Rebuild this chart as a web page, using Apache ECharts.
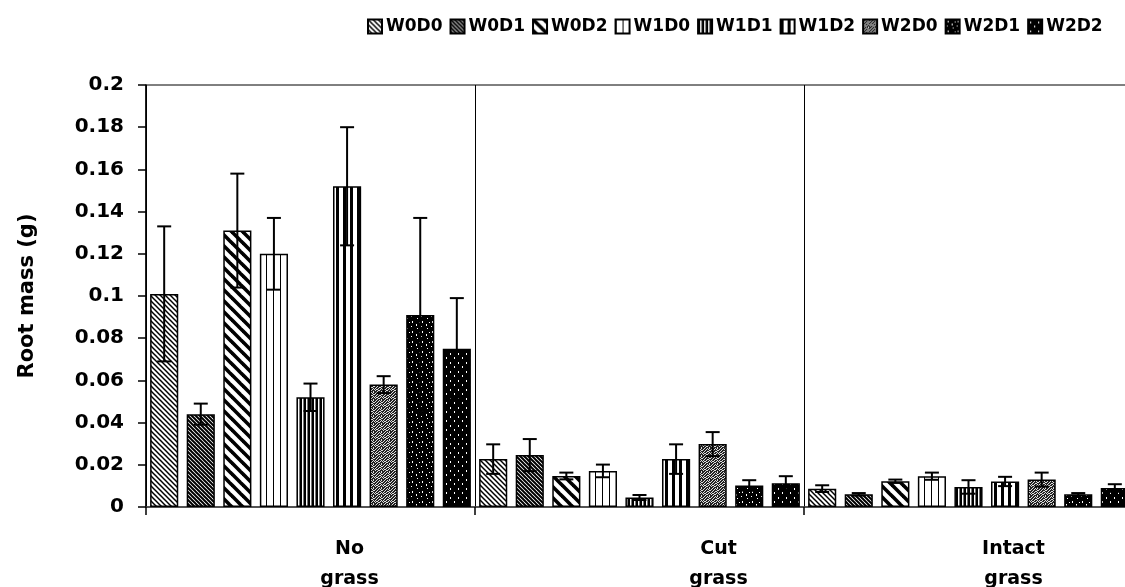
<!DOCTYPE html>
<html>
<head>
<meta charset="utf-8">
<script src="https://cdn.jsdelivr.net/npm/echarts@6/dist/echarts.min.js"></script>
<style>
html,body{margin:0;padding:0;background:#fff;}
#chart{width:1125px;height:587px;}
</style>
</head>
<body>
<div id="chart"></div>
<script>
// ---- data ----
const categories = ['No\ngrass', 'Cut\ngrass', 'Intact\ngrass'];
const seriesNames = ['W0D0', 'W0D1', 'W0D2', 'W1D0', 'W1D1', 'W1D2', 'W2D0', 'W2D1', 'W2D2'];
const yTicks = [0, 0.02, 0.04, 0.06, 0.08, 0.1, 0.12, 0.14, 0.16, 0.18, 0.2];

const w0d0 = [0.101, 0.0227, 0.0087];
const w0d1 = [0.044, 0.0246, 0.0060];
const w0d2 = [0.131, 0.0147, 0.0122];
const w1d0 = [0.120, 0.0171, 0.0146];
const w1d1 = [0.052, 0.0045, 0.0095];
const w1d2 = [0.152, 0.0227, 0.0121];
const w2d0 = [0.058, 0.0298, 0.0130];
const w2d1 = [0.091, 0.0102, 0.0060];
const w2d2 = [0.075, 0.0113, 0.0090];

const w0d0Err = [0.032, 0.0070, 0.0016];
const w0d1Err = [0.005, 0.0076, 0.0006];
const w0d2Err = [0.027, 0.0016, 0.0008];
const w1d0Err = [0.017, 0.0030, 0.0017];
const w1d1Err = [0.0065, 0.0012, 0.0032];
const w1d2Err = [0.028, 0.0070, 0.0022];
const w2d0Err = [0.004, 0.0057, 0.0033];
const w2d1Err = [0.046, 0.0025, 0.0006];
const w2d2Err = [0.024, 0.0033, 0.0018];

const means = [w0d0, w0d1, w0d2, w1d0, w1d1, w1d2, w2d0, w2d1, w2d2];
const errs = [w0d0Err, w0d1Err, w0d2Err, w1d0Err, w1d1Err, w1d2Err, w2d0Err, w2d1Err, w2d2Err];

// ---- fill patterns ----
function tile(w, h, bg, draw) {
  const c = document.createElement('canvas');
  c.width = w; c.height = h;
  const ctx = c.getContext('2d');
  ctx.fillStyle = bg; ctx.fillRect(0, 0, w, h);
  draw(ctx, w, h);
  return c;
}
function diag(p, lw) {
  return tile(p, p, '#fff', (ctx) => {
    ctx.strokeStyle = '#000'; ctx.lineWidth = lw;
    for (const k of [-p, 0, p]) {
      ctx.beginPath(); ctx.moveTo(-1, k - 1); ctx.lineTo(p + 1, k + p + 1); ctx.stroke();
    }
  });
}
function vert(p, lw, bg, fg) {
  return tile(p, 4, bg, (ctx, w, h) => { ctx.fillStyle = fg; ctx.fillRect(0, 0, lw, h); });
}
function bitmap(rows, bg, fg) {
  const h = rows.length, w = rows[0].length;
  return tile(w, h, bg, (ctx) => {
    ctx.fillStyle = fg;
    for (let y = 0; y < h; y++) for (let x = 0; x < w; x++) if (rows[y][x] === '1') ctx.fillRect(x, y, 1, 1);
  });
}
const patterns = [
  diag(5, 1.5),
  diag(4, 2),
  diag(11, 3.6),
  vert(7, 1, '#fff', '#000'),
  tile(4, 4, '#fff', (ctx, w, h) => { ctx.fillStyle = '#000'; ctx.fillRect(0, 0, 2, h); ctx.fillStyle = '#777'; ctx.fillRect(3, 0, 1, h); }),
  vert(7, 3, '#fff', '#000'),
  bitmap(['10010100', '00101001', '01000110', '10011000', '00100101', '11001010', '00110001', '01000100'], '#222', '#ddd'),
  bitmap(['0000000000', '0010000000', '0010000001', '0000000000', '0000001000', '0000001000', '0100000000', '0000000000', '0000000100', '0000000000'], '#000', '#fff'),
  bitmap(['00000000', '00000000', '00100000', '00100000', '00000000', '00000000', '00000010', '00000010', '00000000'], '#000', '#fff')
];

const FONT = 'DejaVu Sans';
const BAR_GAP = 0.3, CAT_GAP = 0.025;
const nSeries = seriesNames.length;

const series = [];
seriesNames.forEach((name, i) => {
  series.push({
    name: name,
    type: 'bar',
    data: means[i],
    barGap: (BAR_GAP * 100) + '%',
    barCategoryGap: (CAT_GAP * 100) + '%',
    itemStyle: { color: { image: patterns[i], repeat: 'repeat' }, borderColor: '#000', borderWidth: 1.5 },
    emphasis: { disabled: true },
    z: 2
  });
});
seriesNames.forEach((name, i) => {
  series.push({
    type: 'custom',
    name: name + ' err',
    data: means[i].map((m, k) => [k, m, errs[i][k]]),
    encode: { x: 0, y: 1 },
    z: 5,
    silent: true,
    clip: false,
    renderItem: function (params, api) {
      const k = api.value(0), m = api.value(1), e = api.value(2);
      const band = api.size([1, 0])[0];
      const usable = band * (1 - CAT_GAP);
      const barW = usable / (nSeries + (nSeries - 1) * BAR_GAP);
      const cx = api.coord([k, 0])[0] - usable / 2 + i * barW * (1 + BAR_GAP) + barW / 2;
      const yt = api.coord([k, m + e])[1];
      const yb = api.coord([k, Math.max(0, m - e)])[1];
      const cw = 7;
      const st = { stroke: '#000', lineWidth: 2 };
      return {
        type: 'group',
        children: [
          { type: 'line', shape: { x1: cx, y1: yt, x2: cx, y2: yb }, style: st },
          { type: 'line', shape: { x1: cx - cw, y1: yt, x2: cx + cw, y2: yt }, style: st },
          { type: 'line', shape: { x1: cx - cw, y1: yb, x2: cx + cw, y2: yb }, style: st }
        ]
      };
    }
  });
});

const labelKeys = ['n', 'c', 'i'];
const baseLabel = { fontFamily: FONT, fontWeight: 'bold', fontSize: 19, color: '#000', lineHeight: 30 };

const chart = echarts.init(document.getElementById('chart'), null, { renderer: 'canvas' });
chart.setOption({
  animation: false,
  backgroundColor: '#fff',
  legend: {
    data: seriesNames,
    left: 367, top: 18,
    itemWidth: 14, itemHeight: 14, itemGap: 7,
    icon: 'rect',
    padding: 0,
    selectedMode: false,
    textStyle: { fontFamily: FONT, fontWeight: 'bold', fontSize: 17, color: '#000', padding: [0, 0, 0, -1] }
  },
  grid: {
    left: 146, right: -8, top: 85, bottom: 80,
    outerBoundsMode: 'none', containLabel: false,
    show: true, borderColor: '#000', borderWidth: 1, backgroundColor: 'transparent'
  },
  xAxis: {
    type: 'category',
    data: categories,
    axisLine: { lineStyle: { color: '#444', width: 1.5 } },
    axisTick: { show: true, length: 8, lineStyle: { color: '#000', width: 1.5 } },
    splitLine: { show: true, lineStyle: { color: '#000', width: 1 } },
    axisLabel: {
      margin: 27,
      interval: 0,
      formatter: (v, idx) => v.split('\n').map(s => '{' + labelKeys[idx] + '|' + s + '}').join('\n'),
      rich: {
        n: Object.assign({ padding: [0, 0, 0, 78] }, baseLabel),
        c: Object.assign({ padding: [0, 0, 0, 158] }, baseLabel),
        i: Object.assign({ padding: [0, 0, 0, 90] }, baseLabel)
      }
    }
  },
  yAxis: {
    type: 'value',
    min: yTicks[0], max: yTicks[yTicks.length - 1], interval: 0.02,
    name: 'Root mass (g)',
    nameLocation: 'middle',
    nameGap: 108,
    nameTextStyle: { fontFamily: FONT, fontWeight: 'bold', fontSize: 21, color: '#000' },
    axisLine: { show: true, lineStyle: { color: '#000', width: 1.5 } },
    axisTick: { show: true, length: 8, lineStyle: { color: '#000', width: 1.5 } },
    splitLine: { show: false },
    axisLabel: {
      margin: 22,
      fontFamily: FONT, fontWeight: 'bold', fontSize: 20, color: '#000',
      formatter: v => String(+v.toFixed(2))
    }
  },
  series: series
});
</script>
</body>
</html>
